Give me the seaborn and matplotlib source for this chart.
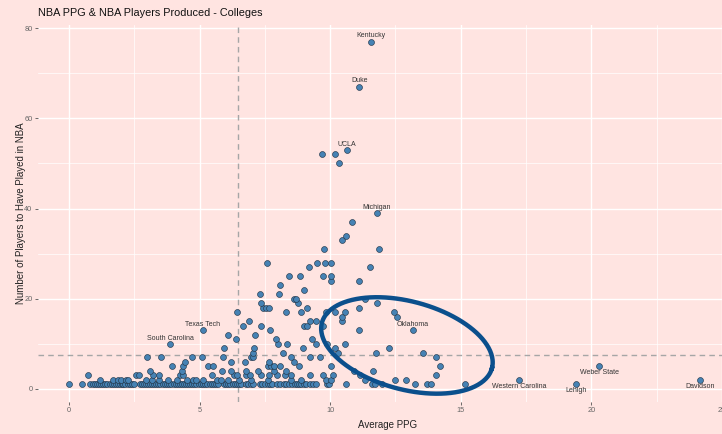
import numpy as np
import pandas as pd
import seaborn as sns
import matplotlib.pyplot as plt

# colleges with exactly one NBA player (average PPG)
ppg_one = [0.0, 0.51,
           0.82, 0.9, 0.98, 1.06, 1.14, 1.22, 1.3, 1.38, 1.46,
           1.55, 1.63, 1.71, 1.79, 1.87, 1.95, 2.02,
           2.08, 2.16, 2.24, 2.32, 2.4, 2.5,
           2.7, 2.78, 2.86, 2.94, 3.02, 3.1, 3.18, 3.26, 3.34, 3.42, 3.5, 3.58, 3.66, 3.74, 3.82, 3.9,
           4.0, 4.08, 4.16, 4.24, 4.32, 4.4, 4.48, 4.56, 4.64, 4.72, 4.8, 4.88, 4.96,
           5.06, 5.14, 5.22, 5.3, 5.38, 5.46, 5.54, 5.62, 5.7,
           5.94, 6.02, 6.1, 6.18, 6.26, 6.34, 6.42, 6.5, 6.58,
           6.76, 6.86, 6.98, 7.06, 7.3, 7.38, 7.52, 7.6, 7.68, 7.76,
           7.98, 8.08, 8.24, 8.32, 8.44, 8.52,
           8.66, 8.74, 8.82, 8.9, 8.98, 9.06,
           9.24, 9.34, 9.46, 9.86, 9.95, 10.61, 11.6, 11.7, 11.98,
           13.26, 13.7, 13.87, 15.17, 19.41]

# colleges with two or more NBA players
ppg = [1.19, 1.67, 1.89, 1.98, 2.18, 2.27, 2.95, 3.18, 3.46, 3.78, 4.12, 4.51, 4.76, 4.87,
       5.12, 5.66, 5.81, 6.1, 6.5, 6.95, 7.6, 8.5, 8.9, 9.85, 10.04, 11.34, 12.49, 12.91, 17.24, 24.18,
       0.74, 2.57, 2.68, 3.23, 3.45, 4.23, 4.38, 5.47, 6.3, 6.45, 6.78, 6.93, 7.34, 7.66, 7.95,
       8.28, 8.5, 9.23, 9.72, 10.1, 11.15, 14.06,
       3.1, 4.32, 5.85, 6.2, 6.78, 7.25, 7.85, 8.31, 10.93, 11.63,
       3.93, 4.38, 5.34, 5.53, 7.61, 7.73, 7.85, 8.08, 8.82, 10.04, 14.21, 20.31,
       4.44, 6.22, 6.74, 7.67, 8.6,
       2.98, 3.52, 4.7, 5.08, 5.89, 6.96, 7.05, 8.49, 9.23, 9.62, 14.05,
       7.06, 8.21, 10.31, 11.76, 13.55,
       5.94, 7.1, 8.95, 10.18, 12.26,
       3.87, 8.02, 8.33, 9.46, 9.88, 10.57,
       6.39, 7.92, 9.3,
       6.07, 7.13,
       5.12, 7.7, 11.11, 13.17,
       6.65, 7.34, 9.0, 9.1, 9.72,
       6.9, 9.23, 9.46, 10.46,
       10.45, 12.56,
       6.45, 8.31, 8.88, 9.83, 10.2, 10.57, 12.43,
       7.44, 7.54, 7.66, 9.1, 11.11,
       7.36, 8.75, 11.79,
       8.62, 8.7, 11.34,
       7.33, 8.03,
       9.0, 8.06,
       10.04, 11.12,
       8.44, 8.85, 9.72, 10.04,
       9.18, 11.53,
       7.57, 9.48, 9.79, 10.02,
       9.78, 11.86,
       10.45, 10.59, 10.83, 11.78,
       10.33, 9.69, 10.2, 10.65, 11.11, 11.57]
players = [2] * 30 + [3] * 22 + [4] * 10 + [5] * 12 + [6] * 5 + [7] * 11 + [8] * 5 + [9] * 5 \
    + [10] * 6 + [11] * 3 + [12] * 2 + [13] * 4 + [14] * 5 + [15] * 4 + [16] * 2 + [17] * 7 \
    + [18] * 5 + [19] * 3 + [20] * 3 + [21] * 2 + [22, 23] + [24] * 2 + [25] * 4 + [27] * 2 \
    + [28] * 4 + [31] * 2 + [33, 34, 37, 39] + [50, 52, 52, 53, 67, 77]

label_names = ['Kentucky', 'Duke', 'UCLA', 'Michigan', 'Oklahoma', 'Texas Tech', 'South Carolina',
               'Western Carolina', 'Lehigh', 'Weber State', 'Davidson']
label_ppg = [11.57, 11.11, 10.65, 11.78, 13.17, 5.12, 3.87, 17.24, 19.41, 20.31, 24.18]
label_players = [77, 67, 53, 39, 13, 13, 10, 2, 1, 5, 2]
label_above = [True, True, True, True, True, True, True, False, False, False, False]

mean_ppg = 6.47
mean_players = 7.5

df = pd.DataFrame({'Average PPG': ppg_one + ppg,
                   'Players': [1] * len(ppg_one) + players})

bg = '#FFE4E1'
plt.rcParams['font.family'] = ['Liberation Sans', 'DejaVu Sans']

fig = plt.figure(figsize=(7.22, 4.34), dpi=100, facecolor=bg)
ax = fig.add_axes([38 / 722, 1 - 401.6 / 434, 700 / 722, 377 / 434])
ax.set_facecolor(bg)
xmin, xmax, ymin, ymax = -1.19, 25.62, -2.8, 80.8
ax.set_xlim(xmin, xmax)
ax.set_ylim(ymin, ymax)

ax.set_xticks([0, 5, 10, 15, 20, 25])
ax.set_yticks([0, 20, 40, 60, 80])
ax.set_xticks([2.5, 7.5, 12.5, 17.5, 22.5], minor=True)
ax.set_yticks([10, 30, 50, 70], minor=True)
ax.grid(True, which='major', color='white', linewidth=1.0)
ax.grid(True, which='minor', color='white', linewidth=0.5)
ax.set_axisbelow(True)
for s in ax.spines.values():
    s.set_visible(False)
ax.tick_params(which='major', length=2.5, width=0.6, color='#555555', labelcolor='#666666',
               labelsize=5.3, pad=1.5)
ax.tick_params(which='minor', length=0)

ax.axvline(mean_ppg, color='#a6a6a6', linestyle=(0, (4, 3)), linewidth=1.0, zorder=1)
ax.axhline(mean_players, color='#a6a6a6', linestyle=(0, (4, 3)), linewidth=1.0, zorder=1)

sns.scatterplot(data=df, x='Average PPG', y='Players', color='#4682B4', edgecolor='#22364a',
                linewidth=0.45, s=18, ax=ax, zorder=3)

for name, x, y, up in zip(label_names, label_ppg, label_players, label_above):
    ax.annotate(name, (x, y), xytext=(0, 4.2 if up else -4.5), textcoords='offset points',
                ha='center', va='center', fontsize=5, color='#333333', zorder=4)

# hand-drawn ellipse around the high-PPG / few-players colleges
px_x = 700 / (xmax - xmin)
px_y = 377 / (ymax - ymin)
t = np.linspace(0, 2 * np.pi, 300)
ang = np.deg2rad(15)
dx = 88 * np.cos(t) * np.cos(ang) - 44 * np.sin(t) * np.sin(ang)
dy = 88 * np.cos(t) * np.sin(ang) + 44 * np.sin(t) * np.cos(ang)
ax.plot(12.94 + dx / px_x, 9.65 - dy / px_y, color='#0b4f8c', linewidth=3.2, zorder=5)

ax.set_xlabel('Average PPG', fontsize=7, color='#222222', labelpad=4)
ax.set_ylabel('Number of Players to Have Played in NBA', fontsize=7, color='#222222', labelpad=-1)
fig.text(38 / 722, 1 - 13 / 434, 'NBA PPG & NBA Players Produced - Colleges', fontsize=7.8,
         color='#111111', ha='left', va='center')

fig.savefig('out.png', dpi=100, facecolor=bg)
